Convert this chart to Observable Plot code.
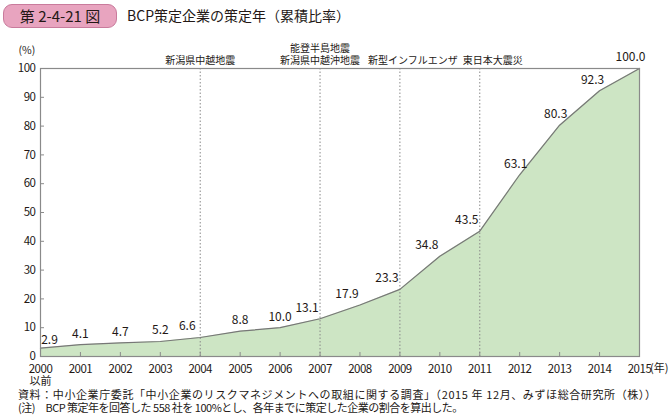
<!DOCTYPE html>
<html>
<head>
<meta charset="utf-8">
<script src="https://cdn.jsdelivr.net/npm/d3@7"></script>
<script src="https://cdn.jsdelivr.net/npm/@observablehq/plot@0.6"></script>
<style>
  html, body { margin: 0; padding: 0; background: #fff; }
  body { width: 670px; height: 416px; position: relative; font-family: "Noto Sans CJK JP", "Noto Sans", sans-serif; color: #231815; }
  #header { position: absolute; left: 0; top: 0; width: 670px; height: 32px; }
  #badge { position: absolute; left: 3px; top: 4px; width: 112px; height: 22px; background: #e8a4bf; border: 1px solid #c97b9c; border-radius: 9px; font-size: 15px; line-height: 22px; text-align: center; }
  #title { position: absolute; left: 127px; top: 4px; font-size: 14px; line-height: 22px; }
  #chart { position: absolute; left: 0; top: 32px; }
  #caption { position: absolute; left: 18px; top: 388px; font-size: 11px; line-height: 13px; white-space: nowrap; }
  #cap1 { letter-spacing: 0.6px; }
  #cap2 { letter-spacing: -0.5px; }
  #chart g[aria-label$="tick label"] text { letter-spacing: -0.5px; }
</style>
</head>
<body>
<div id="header"><div id="badge">第 2-4-21 図</div><div id="title">BCP策定企業の策定年（累積比率）</div></div>
<div id="chart"></div>
<div id="caption"><div id="cap1">資料：中小企業庁委託「中小企業のリスクマネジメントへの取組に関する調査」（2015 年 12月、みずほ総合研究所（株））</div><div id="cap2">(注)　BCP 策定年を回答した 558 社を 100%とし、各年までに策定した企業の割合を算出した。</div></div>
<script>
const years = [2000, 2001, 2002, 2003, 2004, 2005, 2006, 2007, 2008, 2009, 2010, 2011, 2012, 2013, 2014, 2015];
const values = [2.9, 4.1, 4.7, 5.2, 6.6, 8.8, 10.0, 13.1, 17.9, 23.3, 34.8, 43.5, 63.1, 80.3, 92.3, 100.0];
const eventYears = [2004, 2007, 2009, 2011];
const eventLabels = ["新潟県中越地震", "能登半島地震\n新潟県中越沖地震", "新型インフルエンザ", "東日本大震災"];
const yTicks = [0, 10, 20, 30, 40, 50, 60, 70, 80, 90, 100];

const data = years.map((year, i) => ({year, value: values[i]}));
const events = eventYears.map((year, i) => ({year, label: eventLabels[i]}));

const font = "'Noto Sans CJK JP', 'Noto Sans', sans-serif";
const gray = "#8a8a8a";
const ink = "#231815";

// label placement rule: move away from dashed event lines, slightly left on the steep part
const shiftOf = d => eventYears.includes(d.year) || d.year === 2008 || d.year === 2010 ? -13
  : d.year === 2000 ? 9 : d.year >= 2012 ? (d.year === 2015 ? -9 : d.year === 2014 ? -7 : -4) : 0;
const shifts = [...new Set(data.map(shiftOf))];
const valueLabels = shifts.map(s => Plot.text(data, {
  filter: d => shiftOf(d) === s,
  x: "year", y: "value", text: d => d.value.toFixed(1),
  dx: s, dy: s === 9 ? -8 : -11, fontSize: 12, fill: ink
}));

// event labels: the later two sit slightly to the right of their lines
const evShift = d => d.year >= 2009 ? 13 : 0;
const eventText = [0, 13].map(s => Plot.text(events, {
  filter: d => evShift(d) === s,
  x: "year", text: "label", frameAnchor: "top", dx: s, dy: -5, lineAnchor: "bottom", lineHeight: 1.2, fontSize: 10, fill: ink
}));

const chart = Plot.plot({
  width: 670,
  height: 358,
  marginLeft: 40,
  marginRight: 31,
  marginTop: 36,
  marginBottom: 34,
  style: {fontFamily: font, fontSize: "11px", color: ink, background: "transparent"},
  x: {domain: [2000, 2015]},
  y: {domain: [0, 100]},
  marks: [
    Plot.areaY(data, {x: "year", y: "value", fill: "#cde5c4"}),
    Plot.ruleX(events, {x: "year", stroke: gray, strokeDasharray: "1.5,2", strokeWidth: 1}),
    Plot.lineY(data, {x: "year", y: "value", stroke: "#777", strokeWidth: 1.2}),
    Plot.frame({stroke: gray, strokeWidth: 1.2}),
    Plot.axisY({ticks: yTicks, tickSize: -4, tickPadding: 9, stroke: gray, fill: ink, label: null, fontSize: 11.5}),
    Plot.axisX({ticks: years, tickSize: -4, tickPadding: 12, stroke: gray, fill: ink, label: null, fontSize: 11.5,
      tickFormat: d => String(d)}),
    ...valueLabels,
    ...eventText,
    Plot.text(["以前"], {frameAnchor: "bottom-left", textAnchor: "middle", dy: 25, lineAnchor: "middle", fontSize: 11, fill: ink}),
    Plot.text(["(%)"], {frameAnchor: "top-left", textAnchor: "start", dx: -22, dy: -22, fontSize: 10.5, fill: ink}),
    Plot.text(["(年)"], {frameAnchor: "bottom-right", textAnchor: "end", dx: 29, dy: 12, lineAnchor: "middle", fontSize: 11, fill: ink})
  ]
});
document.getElementById("chart").appendChild(chart);
</script>
</body>
</html>
